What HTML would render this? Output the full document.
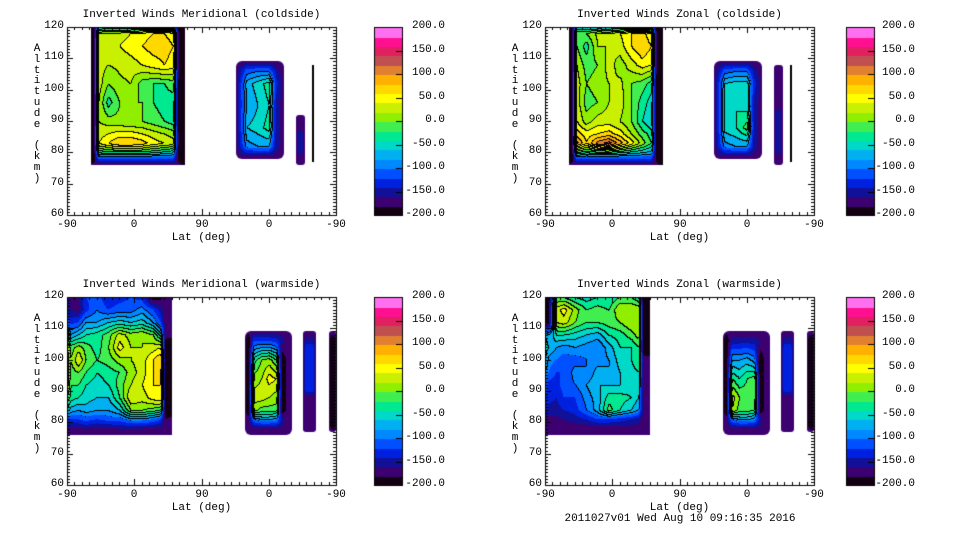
<!DOCTYPE html>
<html><head><meta charset="utf-8">
<style>
body{margin:0;background:#fff;width:960px;height:540px;overflow:hidden;position:relative;font-family:"Liberation Mono",monospace;font-size:11px;color:#000}
.t{position:absolute;white-space:nowrap;line-height:11px}
canvas{position:absolute;left:0;top:0}
</style></head><body>
<canvas id="cv" width="960" height="540"></canvas>
<div id="labels"></div>
<script>
// ---- data ----
const bandColors=["#120012","#3c0070","#101098","#0020e0","#0050ff","#0088ff","#00b0f0","#00d8c8","#00e890","#40ee50","#90ee00","#c8f000","#ffff00","#ffd800","#ffb000","#e08030","#c05050","#e02060","#ff1090","#ff70f0"];
const cbarTicks=[200,150,100,50,0,-50,-100,-150,-200];
const yTicks=[60,70,80,90,100,110,120];
const xTickLabels=["-90","0","90","0","-90"];
const panelTitles=["Inverted Winds Meridional (coldside)","Inverted Winds Zonal (coldside)","Inverted Winds Meridional (warmside)","Inverted Winds Zonal (warmside)"];
const P=-172;
const mainColdXs=[32,36,42,55,70,85,100,115,130,142,150,158];
const mainColdYs=[120,118,114,108,102,96,90,86,83,80,78,76];
const merColdVals=[
[-200,-200,-60,-60,-60,-60,-60,-60,-60,-60,-200,-200],
[-200,-200,20,30,30,40,50,60,60,50,-200,-200],
[-200,-200,30,20,40,50,60,70,70,60,-200,-200],
[-200,-200,30,20,25,30,40,50,60,50,-200,-200],
[-200,-200,30,0,15,20,-10,-20,-20,-10,-200,-200],
[-200,-200,20,-30,0,0,0,-20,-30,-30,-200,-200],
[-200,-200,20,10,5,0,0,-10,-20,-30,-200,-200],
[-200,-200,30,40,50,50,40,30,20,10,-200,-200],
[-200,-200,40,60,80,80,70,50,40,30,-200,-200],
[-200,-200,-40,-30,-30,-30,-30,-40,-50,-60,-200,-200],
[-200,-200,-120,-120,-120,-120,-120,-120,-120,-120,-200,-200],
[P,P,P,P,P,P,P,P,P,P,P,-200]];
const zonColdVals=[
[-200,-200,-60,-60,-60,-60,-60,-60,-60,-60,-200,-200],
[-200,-200,0,0,25,20,40,60,70,40,-200,-200],
[-200,-200,0,-30,20,20,30,60,80,60,-200,-200],
[-200,-200,20,-10,0,30,10,30,50,40,-200,-200],
[-200,-200,30,0,10,20,25,0,-10,-30,-200,-200],
[-200,-200,30,-10,0,20,30,0,-30,-50,-200,-200],
[-200,-200,40,10,30,30,20,0,-40,-60,-200,-200],
[-200,-200,70,50,60,70,50,20,-10,-30,-200,-200],
[-200,-200,110,60,110,130,90,50,10,-20,-200,-200],
[-200,-200,-20,-40,-30,-30,-40,-50,-60,-70,-200,-200],
[-200,-200,-120,-120,-120,-120,-120,-120,-120,-120,-200,-200],
[P,P,P,P,P,P,P,P,P,P,P,-200]];
const rectColdXs=[226,232,240,255,270,280,290];
const rectColdYs=[109,106,102,95,88,82,79,78];
const merRectColdVals=[
[P,P,P,P,P,P,P],[P,-150,-110,-100,-100,-150,P],[P,-130,-70,-50,-30,-130,P],[P,-130,-80,-60,-40,-150,P],
[P,-130,-60,-50,-30,-150,P],[P,-140,-90,-80,-80,-150,P],[P,-165,-160,-160,-160,-165,P],[P,P,P,P,P,P,P]];
const zonRectColdVals=[
[P,P,P,P,P,P,P],[P,-150,-110,-100,-100,-150,P],[P,-130,-60,-50,-50,-130,P],[P,-130,-50,-40,-50,-150,P],
[P,-130,-50,-40,-10,-150,P],[P,-140,-90,-80,-80,-150,P],[P,-165,-160,-160,-160,-165,P],[P,P,P,P,P,P,P]];
const mainWarmXs=[0,5,15,25,40,55,70,85,100,115,125,132,141];
const mainWarmYs=[120,116,112,108,104,100,96,92,88,84,81,78,76];
const merWarmVals=[
[-150,-170,-160,-120,-110,-140,-130,-120,-130,-200,-190,P,P],
[-140,-160,-170,-130,-100,-120,-110,-110,-90,-120,-150,P,P],
[-100,-130,-120,-80,-80,-60,-50,-60,-50,-80,-120,P,P],
[-30,-80,-60,-40,-30,-10,30,10,20,0,-50,P,P],
[20,-10,10,-10,-30,0,50,20,20,30,40,-200,-200],
[30,0,40,0,-20,-10,10,20,30,60,80,-200,-200],
[40,-10,0,-20,-40,-30,-20,10,30,60,60,-200,-200],
[30,-20,-20,-40,-50,-40,-10,20,40,60,60,-200,-200],
[0,-30,-40,-50,-60,-60,-20,40,30,50,60,-200,-200],
[-50,-70,-80,-70,-80,-80,-60,0,0,-10,-20,-200,-200],
[-120,-120,-120,-110,-120,-110,-110,-90,-90,-100,-120,-180,P],
[-165,-165,-165,-160,-165,-165,-160,-160,-160,-165,-170,P,P],
[P,P,P,P,P,P,P,P,P,P,P,P,P]];
const zonWarmVals=[
[-190,-200,-20,-20,-40,-50,-40,-40,-20,-20,-40,-200,-200],
[-190,-200,30,50,10,-20,-10,-20,20,20,20,-200,-200],
[-190,-200,20,30,0,-20,-20,-10,0,20,10,-200,-200],
[-60,-80,-40,-40,-50,-60,-70,-40,-30,-10,10,-200,-200],
[-50,-60,-80,-90,-80,-90,-100,-70,-40,-40,-20,-200,-200],
[-60,-90,-100,-110,-110,-100,-90,-80,-50,-40,-20,P,P],
[-80,-100,-120,-120,-90,-100,-70,-80,-60,-50,-40,P,P],
[-100,-130,-130,-110,-100,-80,-60,-60,-60,-50,-50,P,P],
[-120,-130,-140,-120,-120,-90,-70,-30,-30,-40,-60,P,P],
[-130,-150,-150,-140,-130,-100,-70,-10,-40,-60,-80,P,P],
[-165,-165,-165,-160,-150,-140,-120,-120,-130,-140,-150,P,P],
[-175,-175,-175,-175,-175,-175,-175,-175,-170,-170,-170,P,P],
[P,P,P,P,P,P,P,P,P,P,P,P,P]];
const rectWarmXs=[238,243,250,260,270,280,288,295,301];
const rectWarmYs=[109,106,100,94,88,84,81,78,76];
const merRectWarmVals=[
[P,P,P,P,P,P,P,P,P],[P,-200,-120,-120,-120,-130,-150,P,P],[P,-200,-30,0,10,-20,-200,P,P],
[P,-200,10,20,50,40,-200,P,P],[P,-200,30,30,20,10,-200,P,P],[P,-200,10,-10,-10,-10,-200,P,P],
[P,-170,-100,-80,-80,-90,-150,P,P],[P,P,-165,-165,-165,-165,-165,P,P],[P,P,P,P,P,P,P,P,P]];
const zonRectWarmVals=[
[P,P,P,P,P,P,P,P,P],[P,-200,-150,-150,-150,-150,-160,P,P],[P,-200,-80,-80,-70,-90,-200,P,P],
[P,-200,-20,-40,-20,-10,-200,P,P],[P,-200,30,0,-10,-10,-200,P,P],[P,-200,20,-10,-10,-20,-200,P,P],
[P,-170,-100,-80,-80,-90,-150,P,P],[P,P,-165,-165,-165,-165,-165,P,P],[P,P,P,P,P,P,P,P,P]];
const barColdXs=[306,309,315,318];
const merBarColdYs=[92,88,86,80,79,76];
const zonBarColdYs=[108,94,93,80,79,76];
const merBarColdVals=[[P,P,P,P],[P,P,P,P],[P,-150,-150,P],[P,-150,-150,P],[P,P,P,P],[P,P,P,P]];
const zonBarColdVals=[[P,P,P,P],[P,P,P,P],[P,-150,-150,P],[P,-150,-150,P],[P,P,P,P],[P,P,P,P]];
const barWarmXs=[316,320,329,333];
const barWarmYs=[109,106,104,90,88,77];
const barWarmVals=[[P,P,P,P],[P,-150,-150,P],[P,-130,-130,P],[P,-130,-130,P],[P,P,P,P],[P,P,P,P]];
const thinWarmXs=[351,354,357,360];
const thinWarmYs=[109,105,80,77];
const thinWarmVals=[[P,P,P,P],[P,-200,-200,P],[P,-200,-200,P],[P,P,P,P]];

const panels=[
 {L:67,T:27,cb:307,lab:71,blocks:[[mainColdXs,mainColdYs,merColdVals,0],[rectColdXs,rectColdYs,merRectColdVals,6],[barColdXs,merBarColdYs,merBarColdVals,3]],line:true},
 {L:545,T:27,cb:301,lab:69,blocks:[[mainColdXs,mainColdYs,zonColdVals,0],[rectColdXs,rectColdYs,zonRectColdVals,6],[barColdXs,zonBarColdYs,zonBarColdVals,3]],line:true},
 {L:67,T:297,cb:307,lab:71,blocks:[[mainWarmXs,mainWarmYs,merWarmVals,0],[rectWarmXs,rectWarmYs,merRectWarmVals,6],[barWarmXs,barWarmYs,barWarmVals,3],[thinWarmXs,thinWarmYs,thinWarmVals,3]]},
 {L:545,T:297,cb:301,lab:69,blocks:[[mainWarmXs,mainWarmYs,zonWarmVals,0],[rectWarmXs,rectWarmYs,zonRectWarmVals,6],[barWarmXs,barWarmYs,barWarmVals,3],[thinWarmXs,thinWarmYs,thinWarmVals,3]]}
];
const W=269,H=188;
const ctx=document.getElementById('cv').getContext('2d');
function band(v){let i=Math.floor((v+200)/20);return Math.max(0,Math.min(19,i));}
function interp(arr,v){
 for(let i=0;i<arr.length-1;i++){const a=arr[i],b=arr[i+1];if((v>=Math.min(a,b))&&(v<=Math.max(a,b))){return i+(b===a?0:(v-a)/(b-a));}}
 return v<Math.min(arr[0],arr[arr.length-1])?(arr[0]<arr[arr.length-1]?0:arr.length-1):(arr[0]<arr[arr.length-1]?arr.length-1:0);}
function val(xs,ys,g,x,y){
 const fx=interp(xs,x),fy=interp(ys,y);
 const i=Math.min(Math.floor(fx),xs.length-2),j=Math.min(Math.floor(fy),ys.length-2);
 const tx=fx-i,ty=fy-j;
 return g[j][i]*(1-tx)*(1-ty)+g[j][i+1]*tx*(1-ty)+g[j+1][i]*(1-tx)*ty+g[j+1][i+1]*tx*ty;}
const lab=document.getElementById('labels');
function txt(s,x,y,align,name){const d=document.createElement('div');d.className='t';d.textContent=s;
  
  
  d.style.top=(y-6)+'px';
  if(align==='r'){d.style.right=(960-x)+'px';}else if(align==='c'){d.style.left=x+'px';d.style.transform='translateX(-50%)';}else d.style.left=x+'px';
  lab.appendChild(d);}
panels.forEach((p,pi)=>{
 const sx=v=>p.L+v/360*W, sy=a=>p.T+(120-a)/60*H;
 const ix=px=>(px-p.L)/W*360, iy=py=>120-(py-p.T)/H*60;
 p.blocks.forEach(b=>{
  const [xs,ys,g,r]=b;
  const x0=Math.round(sx(Math.min(...xs))),x1=Math.round(sx(Math.max(...xs)));
  const y0=Math.round(sy(Math.max(...ys))),y1=Math.round(sy(Math.min(...ys)));
  ctx.save();ctx.beginPath();
  if(ctx.roundRect)ctx.roundRect(x0,y0,x1-x0,y1-y0,r);else ctx.rect(x0,y0,x1-x0,y1-y0);
  ctx.clip();
  const bw=x1-x0,bh=y1-y0,bands=[];
  for(let yy=0;yy<bh;yy++){bands.push([]);for(let xx=0;xx<bw;xx++){
   const v=val(xs,ys,g,ix(x0+xx+0.5),iy(y0+yy+0.5));bands[yy].push(band(v));}}
  for(let yy=0;yy<bh;yy++)for(let xx=0;xx<bw;xx++){
   let c=bandColors[bands[yy][xx]];const bnd=bands[yy][xx];
   if(bnd>=5&&((xx>0&&bands[yy][xx-1]!==bnd)||(yy>0&&bands[yy-1][xx]!==bnd)))c="#000";
   ctx.fillStyle=c;ctx.fillRect(x0+xx,y0+yy,1,1);}
  ctx.restore();
 });
 if(p.line){ctx.fillStyle="#000";ctx.fillRect(Math.round(sx(328)),Math.round(sy(108)),2,Math.round(sy(77)-sy(108)));}
 ctx.strokeStyle="#000";ctx.lineWidth=1;ctx.strokeRect(p.L+0.5,p.T+0.5,W,H);
 ctx.beginPath();
 for(let a=60;a<=120;a++){const y=Math.round(sy(a))+0.5;const len=a%10===0?6:3;
  ctx.moveTo(p.L,y);ctx.lineTo(p.L+len,y);ctx.moveTo(p.L+W,y);ctx.lineTo(p.L+W-len,y);}
 for(let d=0;d<=360;d+=10){const x=Math.round(sx(d))+0.5;const len=d%90===0?6:3;
  ctx.moveTo(x,p.T+H);ctx.lineTo(x,p.T+H-len);ctx.moveTo(x,p.T);ctx.lineTo(x,p.T+len);}
 ctx.stroke();
 const cx=p.L+p.cb,cw=28;
 for(let i=0;i<20;i++){ctx.fillStyle=bandColors[i];const yt=p.T+H-(i+1)*H/20;ctx.fillRect(cx,Math.floor(yt),cw,Math.ceil(H/20)+1);}
 ctx.strokeRect(cx+0.5,p.T+0.5,cw,H);
 ctx.beginPath();cbarTicks.forEach(t=>{const y=Math.round(p.T+(200-t)/400*H)+0.5;ctx.moveTo(cx+cw-6,y);ctx.lineTo(cx+cw,y);});ctx.stroke();
 txt(panelTitles[pi],p.L+W/2,p.T-11,'c','panel-title');
 yTicks.forEach(a=>txt(String(a),p.L-3,Math.round(sy(a)),'r','y-tick-label'));
 xTickLabels.forEach((s,i)=>txt(s,Math.round(sx(i*90)),p.T+H+11,'c','x-tick-label'));
 txt("Lat (deg)",p.L+W/2,p.T+H+24,'c','x-axis-title');
 "Altitude (km)".split('').forEach((ch,i)=>txt(ch,p.L-30,p.T+23+i*10.8,'c','y-axis-title-char'));
 cbarTicks.forEach(t=>txt(t.toFixed(1),cx+p.lab,Math.round(p.T+(200-t)/400*H),'r','colorbar-tick-label'));
});
const f=document.createElement('div');f.className='t';f.textContent="2011027v01 Wed Aug 10 09:16:35 2016";


f.style.left='680px';f.style.top='514px';f.style.transform='translateX(-50%)';
lab.appendChild(f);
</script>
</body></html>
